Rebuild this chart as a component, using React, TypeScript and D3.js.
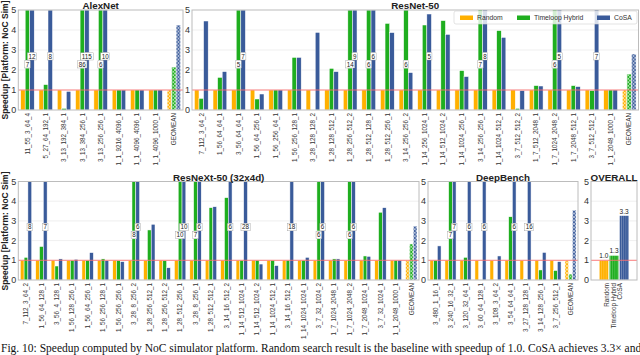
import React from "react";
import * as d3 from "d3";

const seriesNames = ["Random", "Timeloop Hybrid", "CoSA"];
const colors = ["#ffb000", "#1fae1f", "#3a5b9a"];

const alexLayers = ["11_55_3_64_4", "5_27_64_192_1", "3_13_192_384_1", "3_13_384_256_1", "3_13_256_256_1", "1_1_9216_4096_1", "1_1_4096_4096_1", "1_1_4096_1000_1", "GEOMEAN"];
const alexRandom = [1, 1, 1, 1, 1, 1, 1, 1, 1];
const alexTimeloop = [7, 1.27, 0.08, 86, 6, 1, 1, 1, 2.15];
const alexCosa = [12, 8, 0.93, 115, 10, 1, 1, 1, 4.25];

const resnetLayers = ["7_112_3_64_2", "1_56_64_64_1", "3_56_64_64_1", "1_56_64_256_1", "1_56_256_64_1", "1_56_256_128_1", "3_28_128_128_2", "1_28_128_512_1", "1_28_256_512_2", "1_28_512_128_1", "1_28_512_256_1", "3_14_256_256_2", "1_14_256_1024_1", "1_14_512_1024_2", "1_14_1024_256_1", "3_14_256_256_1", "1_14_1024_512_1", "3_7_512_512_2", "1_7_512_2048_1", "1_7_1024_2048_2", "1_7_2048_512_1", "3_7_512_512_1", "1_1_2048_1000_1", "GEOMEAN"];
const resnetRandom = [1, 1, 1, 1, 1, 1, 1, 1, 1, 1, 1, 1, 1, 1, 1, 1, 1, 1, 1, 1, 1, 1, 1, 1];
const resnetTimeloop = [0.58, 1.63, 5.2, 0.55, 1, 2.63, 0, 2.08, 14, 6, 4.33, 6, 4.25, 4.47, 1.97, 7, 3.97, 0.08, 1.22, 6, 1.22, 0.97, 1, 1.8];
const resnetCosa = [4.45, 1.92, 7, 0.8, 1, 2.63, 3.88, 1.92, 9, 6, 3.87, 1.87, 4.8, 3.78, 1.67, 8, 3.63, 0.97, 1.2, 5.3, 1.17, 7, 1, 2.8];

const resnextLayers = ["7_112_3_64_2", "1_56_64_128_1", "3_56_4_128_1", "1_56_128_256_1", "1_56_64_256_1", "1_56_256_128_1", "1_56_256_256_1", "3_28_8_256_2", "1_28_256_512_1", "1_28_256_512_2", "1_28_512_256_1", "3_28_8_256_1", "1_28_512_512_1", "3_14_16_512_2", "1_14_512_1024_1", "1_14_512_1024_2", "1_14_1024_512_1", "3_14_16_512_1", "1_14_1024_1024_1", "3_7_32_1024_2", "1_7_1024_2048_1", "1_7_1024_2048_2", "1_7_2048_1024_1", "3_7_32_1024_1", "1_1_2048_1000_1", "GEOMEAN"];
const resnextRandom = [1, 1, 1, 1, 1, 1, 1, 1, 1, 1, 1, 1, 1, 1, 1, 1, 1, 1, 1, 1, 1, 1, 1, 1, 1, 1];
const resnextTimeloop = [1.15, 1.7, 0.71, 1, 1, 1.07, 0.98, 8, 2.54, 0.98, 10, 7, 3.67, 4.18, 1, 1, 1, 1, 1, 6, 1.07, 6, 1.22, 3.44, 1, 1.83];
const resnextCosa = [8, 7, 1.07, 1.05, 1.39, 0.98, 0.93, 6, 2.83, 0.62, 10, 6, 3.72, 6, 28, 0.81, 0.73, 18, 1.15, 6, 1.07, 6, 1.2, 3.67, 1, 2.74];

const deepLayers = ["3_480_1_16_1", "3_240_16_32_1", "3_120_32_64_1", "3_60_64_128_1", "3_108_3_64_2", "3_54_64_64_1", "3_27_128_128_1", "3_14_128_256_1", "3_7_256_512_1", "GEOMEAN"];
const deepRandom = [1, 1, 1, 1, 1, 1, 1, 1, 1, 1];
const deepTimeloop = [1, 7, 1.15, 0, 0, 3.21, 0.05, 0.51, 0.48, 0.3];
const deepCosa = [1.73, 7, 6, 6, 1.22, 6, 16, 1.4, 0.93, 3.55];

const overallValues = [1.0, 1.25, 3.27];
const yTickValues = [0, 1, 2, 3, 4, 5];

const captionText = "Fig. 10: Speedup computed by NoC simulator platform. Random search result is the baseline with speedup of 1.0. CoSA achieves 3.3\u00d7 and";

const FRAME = "#bcbcbc";
const TXT = "#333";

function Panel({ title, cats, data, x0, x1, top, bottom }) {
  const x = d3.scaleBand().domain(cats).range([x0, x1]).paddingInner(0.26).paddingOuter(0.13);
  const xs = d3.scaleBand().domain(seriesNames).range([0, x.bandwidth()]);
  const y = d3.scaleLinear().domain([0, 5]).range([bottom, top]);
  const bw = xs.bandwidth();

  const bars = [];
  const breaks = [];
  cats.forEach((c, i) => {
    seriesNames.forEach((s, k) => {
      const v = data[k][i];
      const geo = c === "GEOMEAN";
      const bx = x(c) + xs(s);
      const h = Math.min(v, 5);
      bars.push(
        <rect key={`b${i}-${k}`} x={bx} y={y(h)} width={bw} height={bottom - y(h)}
          fill={geo ? `url(#geo${k})` : colors[k]} stroke="#fff" strokeWidth={0.5} />
      );
      // values beyond the axis get a broken bar with the real value printed in it
      if (v >= 4.75) {
        const [lo, hi, mid] = k === 1 ? [2.08, 2.5, 2.28] : [2.5, 2.88, 2.68];
        const label = String(Math.round(v));
        const tw = Math.max(label.length * 3.6 + 2, bw + 1);
        breaks.push(
          <g key={`k${i}-${k}`}>
            <rect x={bx} y={y(hi)} width={bw} height={y(lo) - y(hi)} fill="#fff" />
            <rect x={bx + bw / 2 - tw / 2} y={y(mid) - 3.6} width={tw} height={7.2} fill="#fff" stroke="#999" strokeWidth={0.4} />
            <text x={bx + bw / 2} y={y(mid)} dy="0.35em" textAnchor="middle" fontSize={6.3} fill="#222">{label}</text>
          </g>
        );
      }
    });
  });

  return (
    <g>
      {yTickValues.filter((t) => t > 0 && t < 5).map((t) => (
        <line key={t} x1={x0} x2={x1} y1={y(t)} y2={y(t)} stroke="#ebebeb" strokeWidth={0.8} />
      ))}
      {bars}
      {breaks}
      <line x1={x0} x2={x1} y1={y(1)} y2={y(1)} stroke="#ff6e6e" strokeWidth={1} opacity={0.85} />
      <rect x={x0} y={top} width={x1 - x0} height={bottom - top} fill="none" stroke={FRAME} strokeWidth={1} />
      {yTickValues.map((t) => (
        <text key={t} x={x0 - 2} y={y(t)} dy="0.35em" textAnchor="end" fontSize={9} fill={TXT}>{t}</text>
      ))}
      {cats.map((c) => (
        <text key={c} transform={`translate(${x(c) + x.bandwidth() / 2},${bottom + 3}) rotate(-90)`}
          dy="0.35em" textAnchor="end" fontSize={6.3} fill={TXT}>{c}</text>
      ))}
      <text x={(x0 + x1) / 2} y={top - 1} textAnchor="middle" fontSize={9.8} fontWeight="bold" fill="#222">{title}</text>
    </g>
  );
}

function OverallPanel({ x0, x1, top, bottom }) {
  const x = d3.scaleBand().domain(seriesNames).range([x0, x1]).paddingInner(0.05).paddingOuter(0.8);
  const lx = d3.scalePoint().domain(seriesNames).range([x0 + 16, x0 + 29]);
  const y = d3.scaleLinear().domain([0, 5]).range([bottom, top]);
  return (
    <g>
      {yTickValues.filter((t) => t > 0 && t < 5).map((t) => (
        <line key={t} x1={x0} x2={x1} y1={y(t)} y2={y(t)} stroke="#ebebeb" strokeWidth={0.8} />
      ))}
      {seriesNames.map((s, k) => (
        <g key={s}>
          <rect x={x(s)} y={y(overallValues[k])} width={x.bandwidth()} height={bottom - y(overallValues[k])}
            fill={`url(#ov${k})`} stroke="#fff" strokeWidth={0.5} />
          <text x={x(s) + x.bandwidth() / 2} y={y(overallValues[k]) - 2} textAnchor="middle" fontSize={6.5} fill="#222">
            {overallValues[k].toFixed(1)}
          </text>
        </g>
      ))}
      <line x1={x0} x2={x1} y1={y(1)} y2={y(1)} stroke="#ff6e6e" strokeWidth={1} opacity={0.85} />
      <rect x={x0} y={top} width={x1 - x0} height={bottom - top} fill="none" stroke={FRAME} strokeWidth={1} />
      {yTickValues.map((t) => (
        <text key={t} x={x0 - 2} y={y(t)} dy="0.35em" textAnchor="end" fontSize={9} fill={TXT}>{t}</text>
      ))}
      {seriesNames.map((s) => (
        <text key={s} transform={`translate(${lx(s)},${bottom + 3}) rotate(-90)`}
          dy="0.35em" textAnchor="end" fontSize={6.3} fill={TXT}>{s}</text>
      ))}
      <text x={(x0 + x1) / 2} y={top - 1} textAnchor="middle" fontSize={9.8} fontWeight="bold" fill="#222">OVERALL</text>
    </g>
  );
}

function Legend({ x0, x1, y0 }) {
  const itemX = [6, 63, 143];
  return (
    <g>
      <rect x={x0} y={y0} width={x1 - x0} height={13} rx={2} fill="#fff" fillOpacity={0.8} stroke="#d0d0d0" strokeWidth={0.6} />
      {seriesNames.map((s, k) => (
        <g key={s}>
          <rect x={x0 + itemX[k]} y={y0 + 4.5} width={13} height={4.5} fill={colors[k]} />
          <text x={x0 + itemX[k] + 17} y={y0 + 6.8} dy="0.35em" fontSize={6.8} fill={TXT}>{s}</text>
        </g>
      ))}
    </g>
  );
}

export default function App() {
  const topRow = { top: 10, bottom: 110 };
  const botRow = { top: 181.5, bottom: 280 };
  return (
    <svg width={640} height={355} style={{ position: "absolute", left: 0, top: 0, background: "#fff" }}
      fontFamily="'Liberation Sans', Arial, sans-serif">
      <defs>
        {colors.map((c, k) => (
          <pattern key={`g${k}`} id={`geo${k}`} width={3.5} height={3.5} patternUnits="userSpaceOnUse">
            <rect width={3.5} height={3.5} fill={c} />
            <path d="M0,0 L3.5,3.5 M3.5,0 L0,3.5" stroke="#fff" strokeWidth={0.55} />
          </pattern>
        ))}
        {colors.map((c, k) => (
          <pattern key={`o${k}`} id={`ov${k}`} width={2.2} height={4} patternUnits="userSpaceOnUse">
            <rect width={2.2} height={4} fill={c} />
            <line x1={1.1} x2={1.1} y1={0} y2={4} stroke="#fff" strokeOpacity={0.45} strokeWidth={0.5} />
          </pattern>
        ))}
      </defs>
      <rect width={640} height={355} fill="#fff" />

      <Panel title="AlexNet" cats={alexLayers} data={[alexRandom, alexTimeloop, alexCosa]} x0={18.3} x1={183} {...topRow} />
      <Panel title="ResNet-50" cats={resnetLayers} data={[resnetRandom, resnetTimeloop, resnetCosa]} x0={192} x1={638.5} {...topRow} />
      <Legend x0={454} x1={637} y0={11} />

      <Panel title="ResNeXt-50 (32x4d)" cats={resnextLayers} data={[resnextRandom, resnextTimeloop, resnextCosa]} x0={18.3} x1={419} {...botRow} />
      <Panel title="DeepBench" cats={deepLayers} data={[deepRandom, deepTimeloop, deepCosa]} x0={428} x1={578} {...botRow} />
      <OverallPanel x0={591} x1={637} {...botRow} />

      <text transform="translate(8,60) rotate(-90)" textAnchor="middle" fontSize={8.5} fontWeight="bold" fill="#222">
        Speedup [Platform: NoC Sim]
      </text>
      <text transform="translate(8,231) rotate(-90)" textAnchor="middle" fontSize={8.5} fontWeight="bold" fill="#222">
        Speedup [Platform: NoC Sim]
      </text>

      <text x={1} y={352} fontSize={11.5} fontFamily="'Liberation Serif', 'DejaVu Serif', serif" fill="#111">{captionText}</text>
    </svg>
  );
}
